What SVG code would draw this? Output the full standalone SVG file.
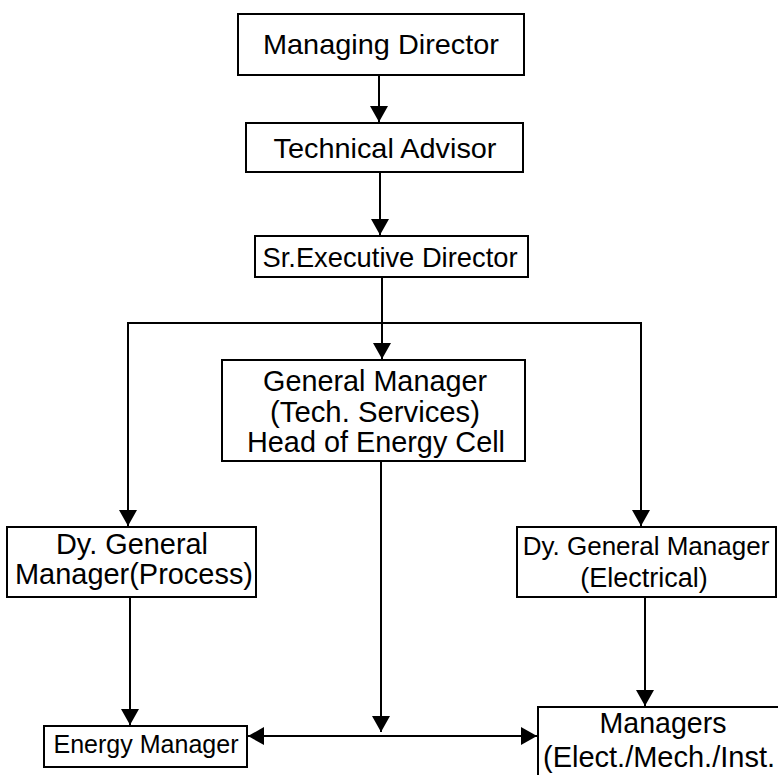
<svg xmlns="http://www.w3.org/2000/svg" width="778" height="775" viewBox="0 0 778 775">
<style>
.box{fill:#fff;stroke:#000;stroke-width:2}
.t{font-family:"Liberation Sans",Arial,sans-serif;font-size:28px;fill:#000;text-anchor:middle}
.c{fill:none;stroke:#000;stroke-width:2}
</style>
<defs>
<marker id="ah" markerUnits="userSpaceOnUse" markerWidth="16" markerHeight="18" refX="16" refY="9" orient="auto">
<path d="M0,0 L16,9 L0,18 z" fill="#000"/>
</marker>
</defs>
<rect width="778" height="775" fill="#fff"/>
<g id="connectors">
<line class="c" x1="379" y1="75" x2="379" y2="122" marker-end="url(#ah)"/>
<line class="c" x1="380" y1="172" x2="380" y2="235" marker-end="url(#ah)"/>
<line class="c" x1="382" y1="277" x2="382" y2="359" marker-end="url(#ah)"/>
<polyline class="c" points="128,526 128,323 641,323 641,526" marker-end="url(#ah)"/>
<line class="c" x1="128" y1="323" x2="128" y2="526" marker-end="url(#ah)"/>
<line class="c" x1="130" y1="597" x2="130" y2="725" marker-end="url(#ah)"/>
<line class="c" x1="645" y1="597" x2="645" y2="706" marker-end="url(#ah)"/>
<line class="c" x1="381" y1="461" x2="381" y2="732" marker-end="url(#ah)"/>
<line class="c" x1="381" y1="736" x2="248" y2="736" marker-end="url(#ah)"/>
<line class="c" x1="381" y1="736" x2="537" y2="736" marker-end="url(#ah)"/>
</g>
<g id="managing-director">
<rect class="box" x="238" y="14" width="286" height="61"/>
<text class="t" x="381" y="54" textLength="236" lengthAdjust="spacingAndGlyphs">Managing Director</text>
</g>
<g id="technical-advisor">
<rect class="box" x="246" y="123" width="277" height="49"/>
<text class="t" x="385" y="158" textLength="223" lengthAdjust="spacingAndGlyphs">Technical Advisor</text>
</g>
<g id="sr-executive-director">
<rect class="box" x="255" y="236" width="273" height="41"/>
<text class="t" x="390" y="267" textLength="255" lengthAdjust="spacingAndGlyphs">Sr.Executive Director</text>
</g>
<g id="general-manager">
<rect class="box" x="222" y="360" width="303" height="101"/>
<text class="t" x="375" y="391" style="font-size:30px" textLength="224" lengthAdjust="spacingAndGlyphs">General Manager</text>
<text class="t" x="375" y="422" style="font-size:30px" textLength="210" lengthAdjust="spacingAndGlyphs">(Tech. Services)</text>
<text class="t" x="376" y="452" style="font-size:30px" textLength="258" lengthAdjust="spacingAndGlyphs">Head of Energy Cell</text>
</g>
<g id="dgm-process">
<rect class="box" x="7" y="527" width="249" height="70"/>
<text class="t" x="132" y="554" style="font-size:29px" textLength="152" lengthAdjust="spacingAndGlyphs">Dy. General</text>
<text class="t" x="134" y="584" style="font-size:29px" textLength="238" lengthAdjust="spacingAndGlyphs">Manager(Process)</text>
</g>
<g id="dgm-electrical">
<rect class="box" x="517" y="527" width="259" height="70"/>
<text class="t" x="646" y="555" style="font-size:26px">Dy. General Manager</text>
<text class="t" x="644" y="587" style="font-size:27px">(Electrical)</text>
</g>
<g id="energy-manager">
<rect class="box" x="44" y="726" width="203" height="41"/>
<text class="t" x="146" y="753" style="font-size:25px" textLength="185" lengthAdjust="spacingAndGlyphs">Energy Manager</text>
</g>
<g id="managers">
<rect class="box" x="538" y="707" width="250" height="80"/>
<text class="t" x="663" y="733" style="font-size:29px" textLength="127" lengthAdjust="spacingAndGlyphs">Managers</text>
<text class="t" x="659" y="767" style="font-size:29px" textLength="232" lengthAdjust="spacingAndGlyphs">(Elect./Mech./Inst.</text>
</g>
</svg>
